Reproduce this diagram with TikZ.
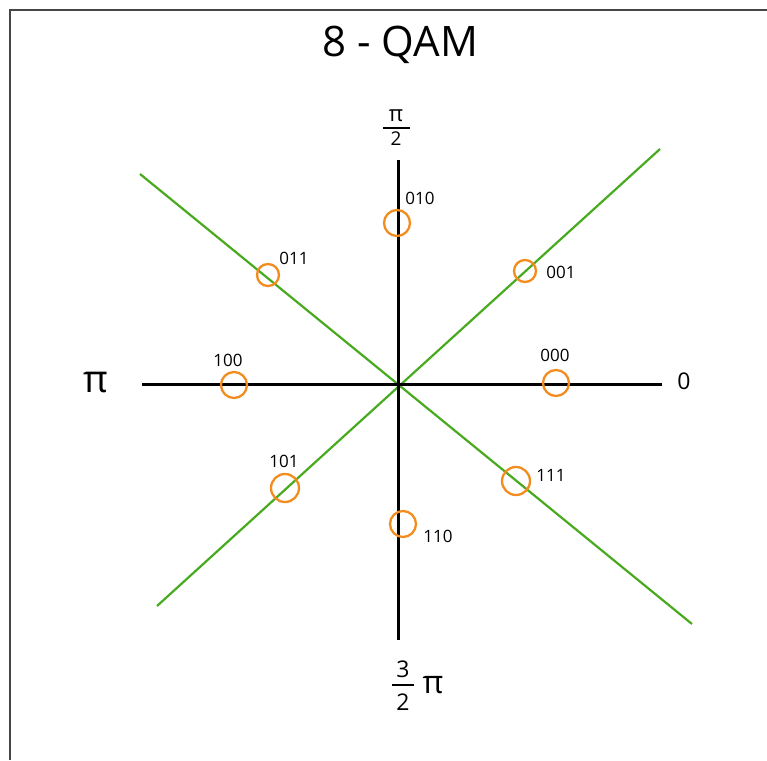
\documentclass[tikz,border=0pt]{standalone}
\usepackage{fontspec}
\setmainfont{Open Sans}
\definecolor{ptorange}{RGB}{242,140,30}
\definecolor{axgreen}{RGB}{72,170,30}
\definecolor{framegray}{RGB}{70,70,70}
\begin{document}
\begin{tikzpicture}[x=1pt,y=-1pt,
  axis/.style={line width=3pt,black},
  diag/.style={line width=2.2pt,axgreen},
  pt/.style={circle,draw=ptorange,line width=2.3pt,inner sep=0pt},
  bits/.style={font=\fontsize{17}{17}\selectfont,inner sep=0pt},
  angle/.style={font=\fontsize{23}{23}\selectfont,inner sep=0pt}]
\useasboundingbox (0,0) rectangle (767,760);
% frame
\draw[framegray,line width=1.4pt] (10,760) -- (10,10) -- (767,10);
% title
\node[inner sep=0pt,font=\fontsize{42}{42}\selectfont] (title) at (400,45) {8 - QAM};
% axes
\coordinate (O) at (398,384);
\coordinate (ytop) at (398,160);
\coordinate (ybot) at (398,640);
\coordinate (xl) at (142,384);
\coordinate (xr) at (662,384);
\coordinate (g1a) at (140,174);
\coordinate (g1b) at (692,624);
\coordinate (g2a) at (157,606);
\coordinate (g2b) at (660,149);
\draw[diag] (g1a) -- (g1b);
\draw[diag] (g2a) -- (g2b);
\draw[axis] (ytop) -- (ybot);
\draw[axis] (xl) -- (xr);
% points
\node[pt,minimum size=26pt] (p010) at (397,223) {};
\node[pt,minimum size=22pt] (p011) at (268,275) {};
\node[pt,minimum size=22pt] (p001) at (525,271) {};
\node[pt,minimum size=26pt] (p100) at (234,385) {};
\node[pt,minimum size=26pt] (p000) at (556,383) {};
\node[pt,minimum size=28pt] (p101) at (285,488) {};
\node[pt,minimum size=28pt] (p111) at (516,481) {};
\node[pt,minimum size=26pt] (p110) at (403,524) {};
% bit labels
\node[bits] (l010) at (420,198) {010};
\node[bits] (l011) at (294,258) {011};
\node[bits] (l001) at (561,272) {001};
\node[bits] (l100) at (228,360) {100};
\node[bits] (l000) at (555,355) {000};
\node[bits] (l101) at (284,461) {101};
\node[bits] (l111) at (551,475) {111};
\node[bits] (l110) at (438,536) {110};
% angle labels
\node[angle] (zero) at (684,381) {0};
\node[inner sep=0pt,font=\fontsize{38}{38}\selectfont] (pileft) at (96,383) {π};
% pi/2
\node[inner sep=0pt,font=\fontsize{22}{22}\selectfont] (pitop) at (396,116) {π};
\coordinate (f1a) at (383,128);
\coordinate (f1b) at (410,128);
\draw[line width=1.5pt] (f1a) -- (f1b);
\node[angle,font=\fontsize{19}{19}\selectfont] (twotop) at (396,139) {2};
% 3/2 pi
\node[angle] (three) at (403,669) {3};
\coordinate (f2a) at (392,685);
\coordinate (f2b) at (414,685);
\draw[line width=1.5pt] (f2a) -- (f2b);
\node[angle] (twobot) at (403,702) {2};
\node[inner sep=0pt,font=\fontsize{32}{32}\selectfont] (pibot) at (433,685) {π};
\end{tikzpicture}
\end{document}
